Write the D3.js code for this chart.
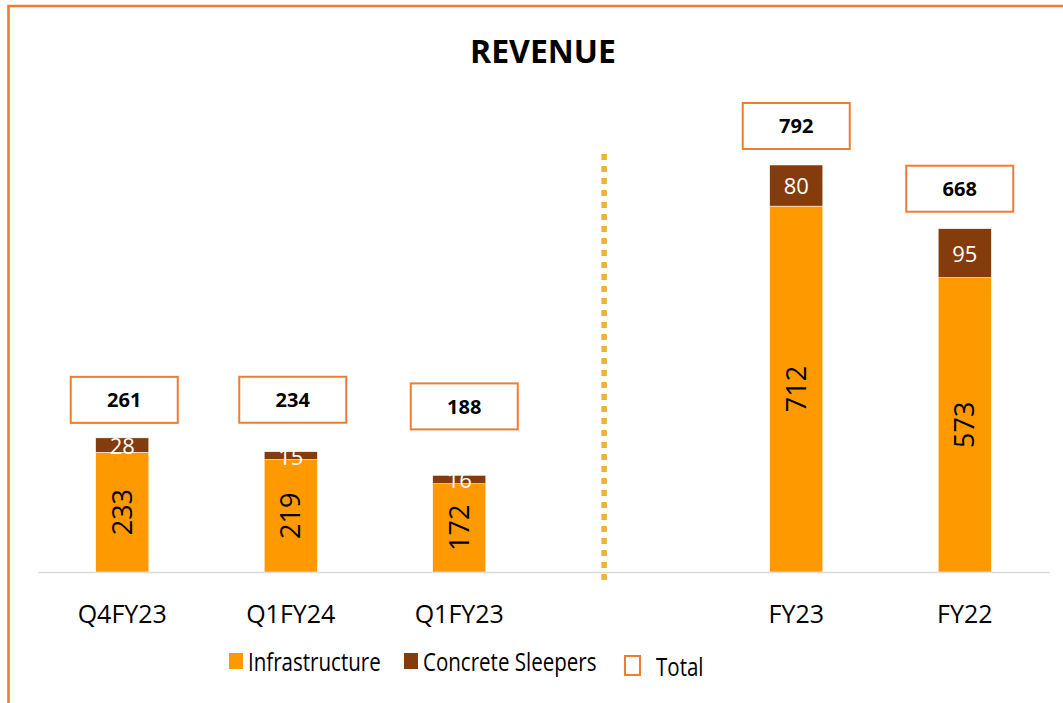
<!DOCTYPE html>
<html>
<head>
<meta charset="utf-8">
<script src="https://cdn.jsdelivr.net/npm/d3@7"></script>
<style>
  html, body { margin: 0; padding: 0; background: #fff; }
  svg text { font-family: "Open Sans", "Noto Sans", sans-serif; }
</style>
</head>
<body>
<div id="chart"></div>
<script>
// data
const categories = ["Q4FY23", "Q1FY24", "Q1FY23", "gap", "FY23", "FY22"];
const barCats = ["Q4FY23", "Q1FY24", "Q1FY23", "FY23", "FY22"];
const infrastructure = [233, 219, 172, 712, 573];
const sleepers = [28, 15, 16, 80, 95];
const totals = [261, 234, 188, 792, 668];

// label placement nudges (px), like hand-moved Excel labels
const totalLift = [38, 52, 69, 39, 40];
const totalShift = [2, 2, 5, 0, -5];

const W = 1063, H = 703;
const cInfra = "#FF9900", cSleep = "#843C0C", cTotal = "#ED7D31";

const svg = d3.select("#chart").append("svg")
  .attr("width", W)
  .attr("height", H);

// outer frame (right / bottom are cropped in the reference)
svg.append("path")
  .attr("d", "M8.5," + (H + 5) + " V6 H" + (W + 5))
  .attr("fill", "none")
  .attr("stroke", cTotal)
  .attr("stroke-width", 2.6);

svg.append("text")
  .attr("x", 543)
  .attr("y", 63)
  .attr("text-anchor", "middle")
  .attr("font-size", 32)
  .attr("font-weight", "bold")
  .attr("fill", "#000")
  .text("REVENUE");

let x = d3.scaleBand()
  .domain(categories)
  .range([38, 1049])
  .paddingInner(0.685)
  .paddingOuter(0.3425);

let y = d3.scaleLinear()
  .domain([0, 900])
  .range([572, 572 - 900 * 407 / 792]);

let xAxis = d3.axisBottom(x)
  .tickSize(0)
  .tickPadding(33)
  .tickFormat(d => d == "gap" ? "" : d);

let gx = svg.append("g")
  .attr("transform", "translate(0," + y(0) + ")")
  .call(xAxis);
gx.select(".domain").attr("stroke", "#d9d9d9").attr("stroke-width", 1.5);
gx.selectAll("text")
  .attr("font-family", "'Open Sans', sans-serif")
  .attr("font-size", 25)
  .attr("fill", "#000")
  .attr("dy", "0.71em");

let data = barCats.map((c, i) => ({
  cat: c, infra: infrastructure[i], sleep: sleepers[i], total: totals[i],
  lift: totalLift[i], shift: totalShift[i]
}));

let bw = x.bandwidth();

let bar = svg.append("g")
  .selectAll("g")
  .data(data)
  .enter().append("g")
  .attr("transform", d => "translate(" + x(d.cat) + ",0)");

bar.append("rect")
  .attr("y", d => y(d.infra))
  .attr("width", bw)
  .attr("height", d => y(0) - y(d.infra))
  .attr("fill", cInfra)
  .attr("stroke", "#fff")
  .attr("stroke-width", 0.5);

bar.append("rect")
  .attr("y", d => y(d.infra + d.sleep))
  .attr("width", bw)
  .attr("height", d => y(d.infra) - y(d.infra + d.sleep))
  .attr("fill", cSleep)
  .attr("stroke", "#fff")
  .attr("stroke-width", 0.5);

// infrastructure values, rotated
bar.append("text")
  .attr("transform", d => "translate(" + (bw / 2) + "," + ((y(0) + y(d.infra)) / 2) + ") rotate(-90)")
  .attr("text-anchor", "middle")
  .attr("dy", "0.36em")
  .attr("font-size", 27)
  .attr("fill", "#000")
  .text(d => d.infra);

// sleeper values
bar.append("text")
  .attr("x", bw / 2)
  .attr("y", d => (y(d.infra) + y(d.infra + d.sleep)) / 2 + 1)
  .attr("text-anchor", "middle")
  .attr("dy", "0.36em")
  .attr("font-size", 22)
  .attr("fill", "#fff")
  .text(d => d.sleep);

// total boxes
let tot = bar.append("g")
  .attr("transform", d => "translate(" + (bw / 2 + d.shift) + "," + (y(d.total) - d.lift) + ")");

tot.append("rect")
  .attr("x", -53.5)
  .attr("y", -23)
  .attr("width", 107)
  .attr("height", 46)
  .attr("fill", "#fff")
  .attr("stroke", cTotal)
  .attr("stroke-width", 2);

tot.append("text")
  .attr("text-anchor", "middle")
  .attr("dy", "0.36em")
  .attr("font-size", 20)
  .attr("font-weight", "bold")
  .attr("fill", "#000")
  .text(d => d.total);

// dotted divider between quarters and full years
let divX = x.range()[0] + x.step() * 3.36;
svg.append("line")
  .attr("x1", divX).attr("x2", divX)
  .attr("y1", 154).attr("y2", 580)
  .attr("stroke", "#F2B035")
  .attr("stroke-width", 5.5)
  .attr("stroke-dasharray", "6 6");

// legend
let legend = svg.append("g");
let items = [
  { label: "Infrastructure", x: 229, fill: cInfra, stroke: "none", w: 14, h: 16, y: 653, tx: 248, base: 671, sx: 0.79 },
  { label: "Concrete Sleepers", x: 404, fill: cSleep, stroke: "none", w: 14, h: 16, y: 653, tx: 423, base: 671, sx: 0.79 },
  { label: "Total", x: 625, fill: "#fff", stroke: cTotal, w: 15, h: 19, y: 656, tx: 656, base: 676, sx: 0.79 }
];
items.forEach(it => {
  legend.append("rect")
    .attr("x", it.x).attr("y", it.y)
    .attr("width", it.w).attr("height", it.h)
    .attr("fill", it.fill)
    .attr("stroke", it.stroke)
    .attr("stroke-width", 2);
  legend.append("text")
    .attr("transform", "translate(" + it.tx + "," + it.base + ") scale(" + it.sx + ",1)")
    .attr("font-size", 26)
    .attr("fill", "#000")
    .text(it.label);
});
</script>
</body>
</html>
